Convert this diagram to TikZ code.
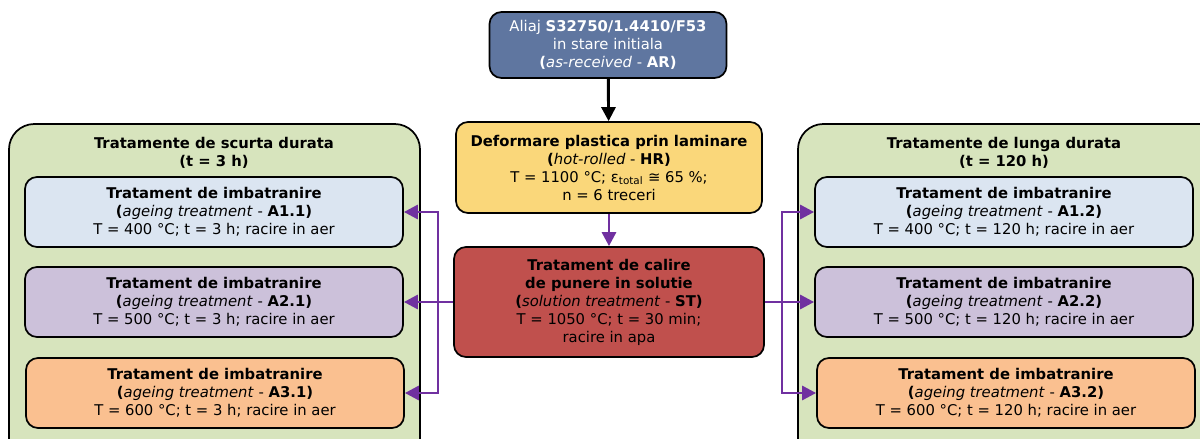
\documentclass[tikz,border=0pt]{standalone}
\usepackage{fontspec}
\setmainfont{DejaVu Sans}
\usepackage{xcolor}
\usetikzlibrary{arrows.meta}
\definecolor{arblue}{RGB}{95,118,160}
\definecolor{hrgold}{RGB}{250,215,122}
\definecolor{stred}{RGB}{192,80,77}
\definecolor{grpgreen}{RGB}{215,228,189}
\definecolor{agblue}{RGB}{219,229,241}
\definecolor{aglilac}{RGB}{204,193,218}
\definecolor{agorange}{RGB}{250,192,144}
\definecolor{linkpurple}{RGB}{112,48,160}

\begin{document}
\begin{tikzpicture}[x=0.75pt,y=-0.75pt,>=Stealth,
    txt/.style={align=center,font=\fontsize{11.1}{13.5}\selectfont,inner sep=0pt},
    box/.style={txt,draw=black,line width=1.3pt,rounded corners=9pt},
    agebox/.style={box,minimum width=283.5pt,minimum height=52.5pt},
    group/.style={draw=black,line width=1.3pt,rounded corners=19pt,fill=grpgreen},
    link/.style={draw=linkpurple,line width=2.2pt,-{Triangle[length=10.5pt,width=10.5pt]}}]
    \useasboundingbox (0,0) rectangle (1200,439);
    \clip (0,0) rectangle (1200,439);
    % groups
    \draw[group] (9,124) rectangle (420,480);
    \draw[group] (798,124) rectangle (1225,480);
    \node[txt] (shortT) at (214,153) {\textbf{Tratamente de scurta durata}\\\textbf{(t = 3 h)}};
    \node[txt] (longT) at (1004,153) {\textbf{Tratamente de lunga durata}\\\textbf{(t = 120 h)}};
    % main chain
    \node[box,fill=arblue,text=white,minimum width=177.75pt,minimum height=49.5pt] (ar) at (608,45)
        {Aliaj \textbf{S32750/1.4410/F53}\\in stare initiala\\\textbf{(}\textit{as-received} - \textbf{AR)}};
    \node[box,fill=hrgold,minimum width=229.5pt,minimum height=68.25pt] (hr) at (609,167.5)
        {\textbf{Deformare plastica prin laminare}\\\textbf{(}\textit{hot-rolled} - \textbf{HR)}\\T = 1100 °C; ε\textsubscript{total} ≅ 65 \%;\\n = 6 treceri};
    \node[box,fill=stred,minimum width=232.5pt,minimum height=82.5pt] (st) at (609,302)
        {\textbf{Tratament de calire}\\\textbf{de punere in solutie}\\\textbf{(}\textit{solution treatment} - \textbf{ST)}\\T = 1050 °C; t = 30 min;\\racire in apa};
    % ageing boxes
    \node[agebox,fill=agblue] (a11) at (214,212)
        {\textbf{Tratament de imbatranire}\\\textbf{(}\textit{ageing treatment} - \textbf{A1.1)}\\T = 400 °C; t = 3 h; racire in aer};
    \node[agebox,fill=aglilac] (a21) at (214,302)
        {\textbf{Tratament de imbatranire}\\\textbf{(}\textit{ageing treatment} - \textbf{A2.1)}\\T = 500 °C; t = 3 h; racire in aer};
    \node[agebox,fill=agorange] (a31) at (215,393)
        {\textbf{Tratament de imbatranire}\\\textbf{(}\textit{ageing treatment} - \textbf{A3.1)}\\T = 600 °C; t = 3 h; racire in aer};
    \node[agebox,fill=agblue] (a12) at (1004,212)
        {\textbf{Tratament de imbatranire}\\\textbf{(}\textit{ageing treatment} - \textbf{A1.2)}\\T = 400 °C; t = 120 h; racire in aer};
    \node[agebox,fill=aglilac] (a22) at (1004,302)
        {\textbf{Tratament de imbatranire}\\\textbf{(}\textit{ageing treatment} - \textbf{A2.2)}\\T = 500 °C; t = 120 h; racire in aer};
    \node[agebox,fill=agorange] (a32) at (1006,393)
        {\textbf{Tratament de imbatranire}\\\textbf{(}\textit{ageing treatment} - \textbf{A3.2)}\\T = 600 °C; t = 120 h; racire in aer};
    % connectors
    \draw[line width=2.2pt,-{Triangle[length=10.5pt,width=10.5pt]}] (ar) -- (hr);
    \draw[link] (hr) -- (st);
    \coordinate (jl) at (438,302);
    \coordinate (jr) at (782,302);
    \draw[link,-] (st.west) -- (jl);
    \draw[link] (jl) |- (a11.east);
    \draw[link] (jl) -- (a21.east);
    \draw[link] (jl) |- (a31.east);
    \draw[link,-] (st.east) -- (jr);
    \draw[link] (jr) |- (a12.west);
    \draw[link] (jr) -- (a22.west);
    \draw[link] (jr) |- (a32.west);
\end{tikzpicture}
\end{document}
